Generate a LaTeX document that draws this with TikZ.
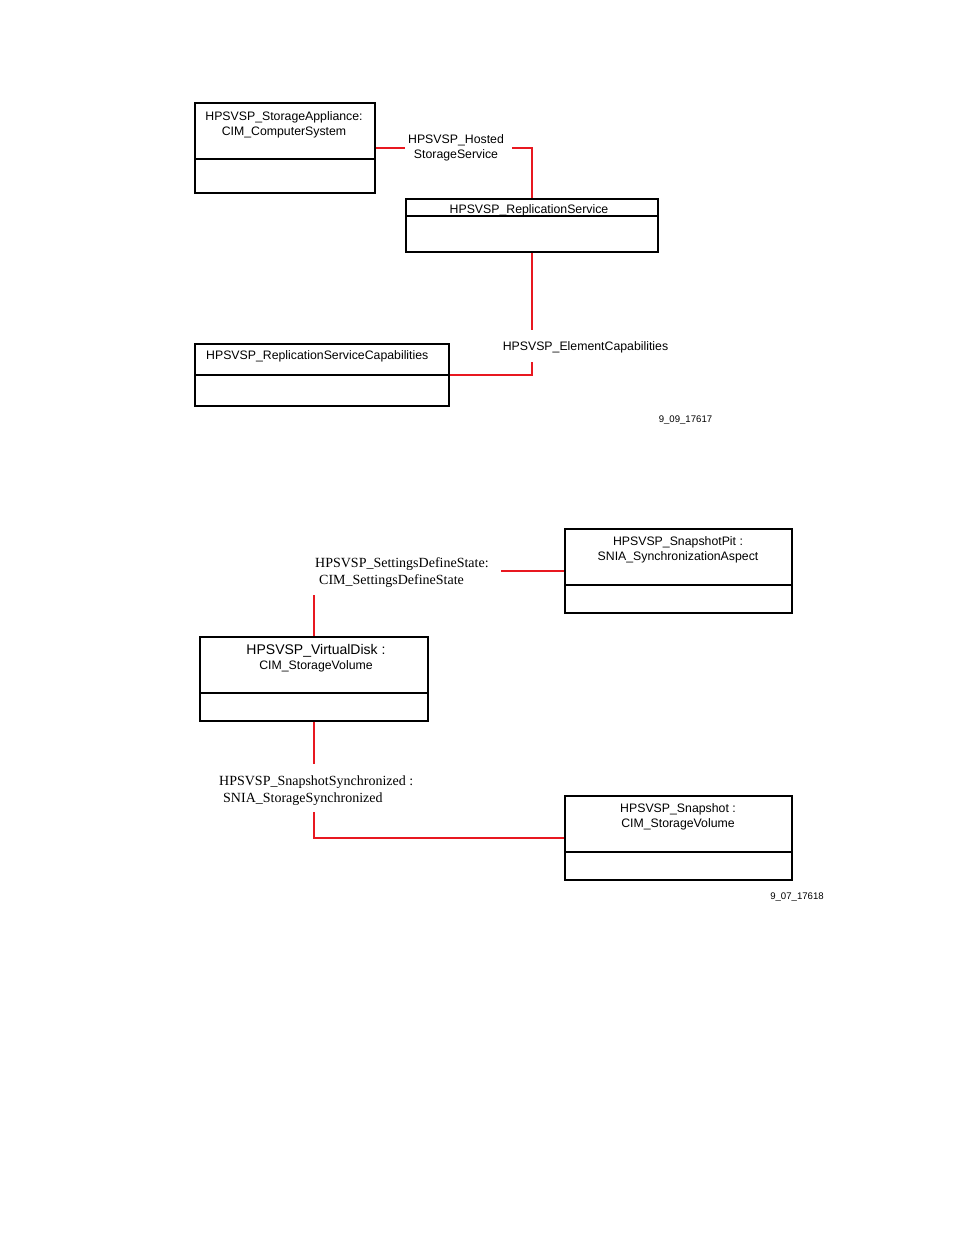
\documentclass[tikz,border=0pt]{standalone}
\usepackage{fontspec}
\setmainfont{Liberation Serif}
\setsansfont{Liberation Sans}
\definecolor{relred}{RGB}{232,24,32}
\begin{document}
\begin{tikzpicture}[x=1pt,y=-1pt,
  umlbox/.style={draw=black,line width=1.2pt,rectangle,inner sep=0pt},
  divider/.style={draw=black,line width=1.2pt},
  rel/.style={draw=relred,line width=2pt},
  boxtext/.style={font=\sffamily\fontsize{12.3}{15}\selectfont,align=center,inner sep=0pt,anchor=north},
  sertext/.style={font=\rmfamily\fontsize{14}{17}\selectfont,align=left,inner sep=0pt,anchor=north west},
  tag/.style={font=\sffamily\fontsize{9.6}{10}\selectfont,inner sep=0pt}]
\useasboundingbox (0,0) rectangle (954,1235);
\fill[white] (0,0) rectangle (954,1235);

% ---------- upper diagram ----------
\node[umlbox,minimum width=180,minimum height=90] (sa) at (285,148) {};
\draw[divider] (sa.west |- 0,159) -- (sa.east |- 0,159);
\node[boxtext] (sat) at (284,111.5) {HPSVSP\_StorageAppliance:\\CIM\_ComputerSystem};

\node[umlbox,minimum width=252,minimum height=53] (rs) at (532,225.5) {};
\draw[divider] (rs.west |- 0,216) -- (rs.east |- 0,216);
\node[boxtext] (rst) at (529,204.5) {HPSVSP\_ReplicationService};

\node[umlbox,minimum width=254,minimum height=62] (rsc) at (322,375) {};
\draw[divider] (rsc.west |- 0,375) -- (rsc.east |- 0,375);
\node[boxtext,anchor=north west] (rsct) at (206,350.5) {HPSVSP\_ReplicationServiceCapabilities};

\node[boxtext] (hss) at (456,134.5) {HPSVSP\_Hosted\\StorageService};
\coordinate (hssL) at (405,148);
\coordinate (hssR) at (512,148);
\draw[rel] (sa.east) -- (hssL);
\draw[rel] (hssR) -| (rs.north);

\node[boxtext] (ec) at (585.5,341.5) {HPSVSP\_ElementCapabilities};
\coordinate (ecT) at (532,330);
\coordinate (ecB) at (532,362);
\draw[rel] (rs.south) -- (ecT);
\draw[rel] (ecB) |- (rsc.east);

\node[tag] (tag1) at (685.5,420.5) {9\_09\_17617};

% ---------- lower diagram ----------
\node[umlbox,minimum width=227,minimum height=84] (spit) at (678.5,571) {};
\draw[divider] (spit.west |- 0,585) -- (spit.east |- 0,585);
\node[boxtext] (spitt) at (678,536.5) {HPSVSP\_SnapshotPit :\\SNIA\_SynchronizationAspect};

\node[umlbox,minimum width=228,minimum height=84] (vd) at (314,679) {};
\draw[divider] (vd.west |- 0,693) -- (vd.east |- 0,693);
\node[boxtext] (vdt) at (316,644.5) {{\fontsize{14}{15}\selectfont HPSVSP\_VirtualDisk :}\\CIM\_StorageVolume};

\node[umlbox,minimum width=227,minimum height=84] (snap) at (678.5,838) {};
\draw[divider] (snap.west |- 0,852) -- (snap.east |- 0,852);
\node[boxtext] (snapt) at (678,803.5) {HPSVSP\_Snapshot :\\CIM\_StorageVolume};

\node[sertext] (sds) at (315,557) {HPSVSP\_SettingsDefineState:\\\hspace*{4pt}CIM\_SettingsDefineState};
\coordinate (sdsR) at (501,571);
\coordinate (sdsB) at (314,595);
\draw[rel] (sdsR) -- (spit.west);
\draw[rel] (sdsB) -- (vd.north);

\node[sertext] (ssy) at (219,775.5) {HPSVSP\_SnapshotSynchronized :\\\hspace*{4pt}SNIA\_StorageSynchronized};
\coordinate (ssyT) at (314,764);
\coordinate (ssyB) at (314,812);
\draw[rel] (vd.south) -- (ssyT);
\draw[rel] (ssyB) |- (snap.west);

\node[tag] (tag2) at (797,897.5) {9\_07\_17618};
\end{tikzpicture}
\end{document}
